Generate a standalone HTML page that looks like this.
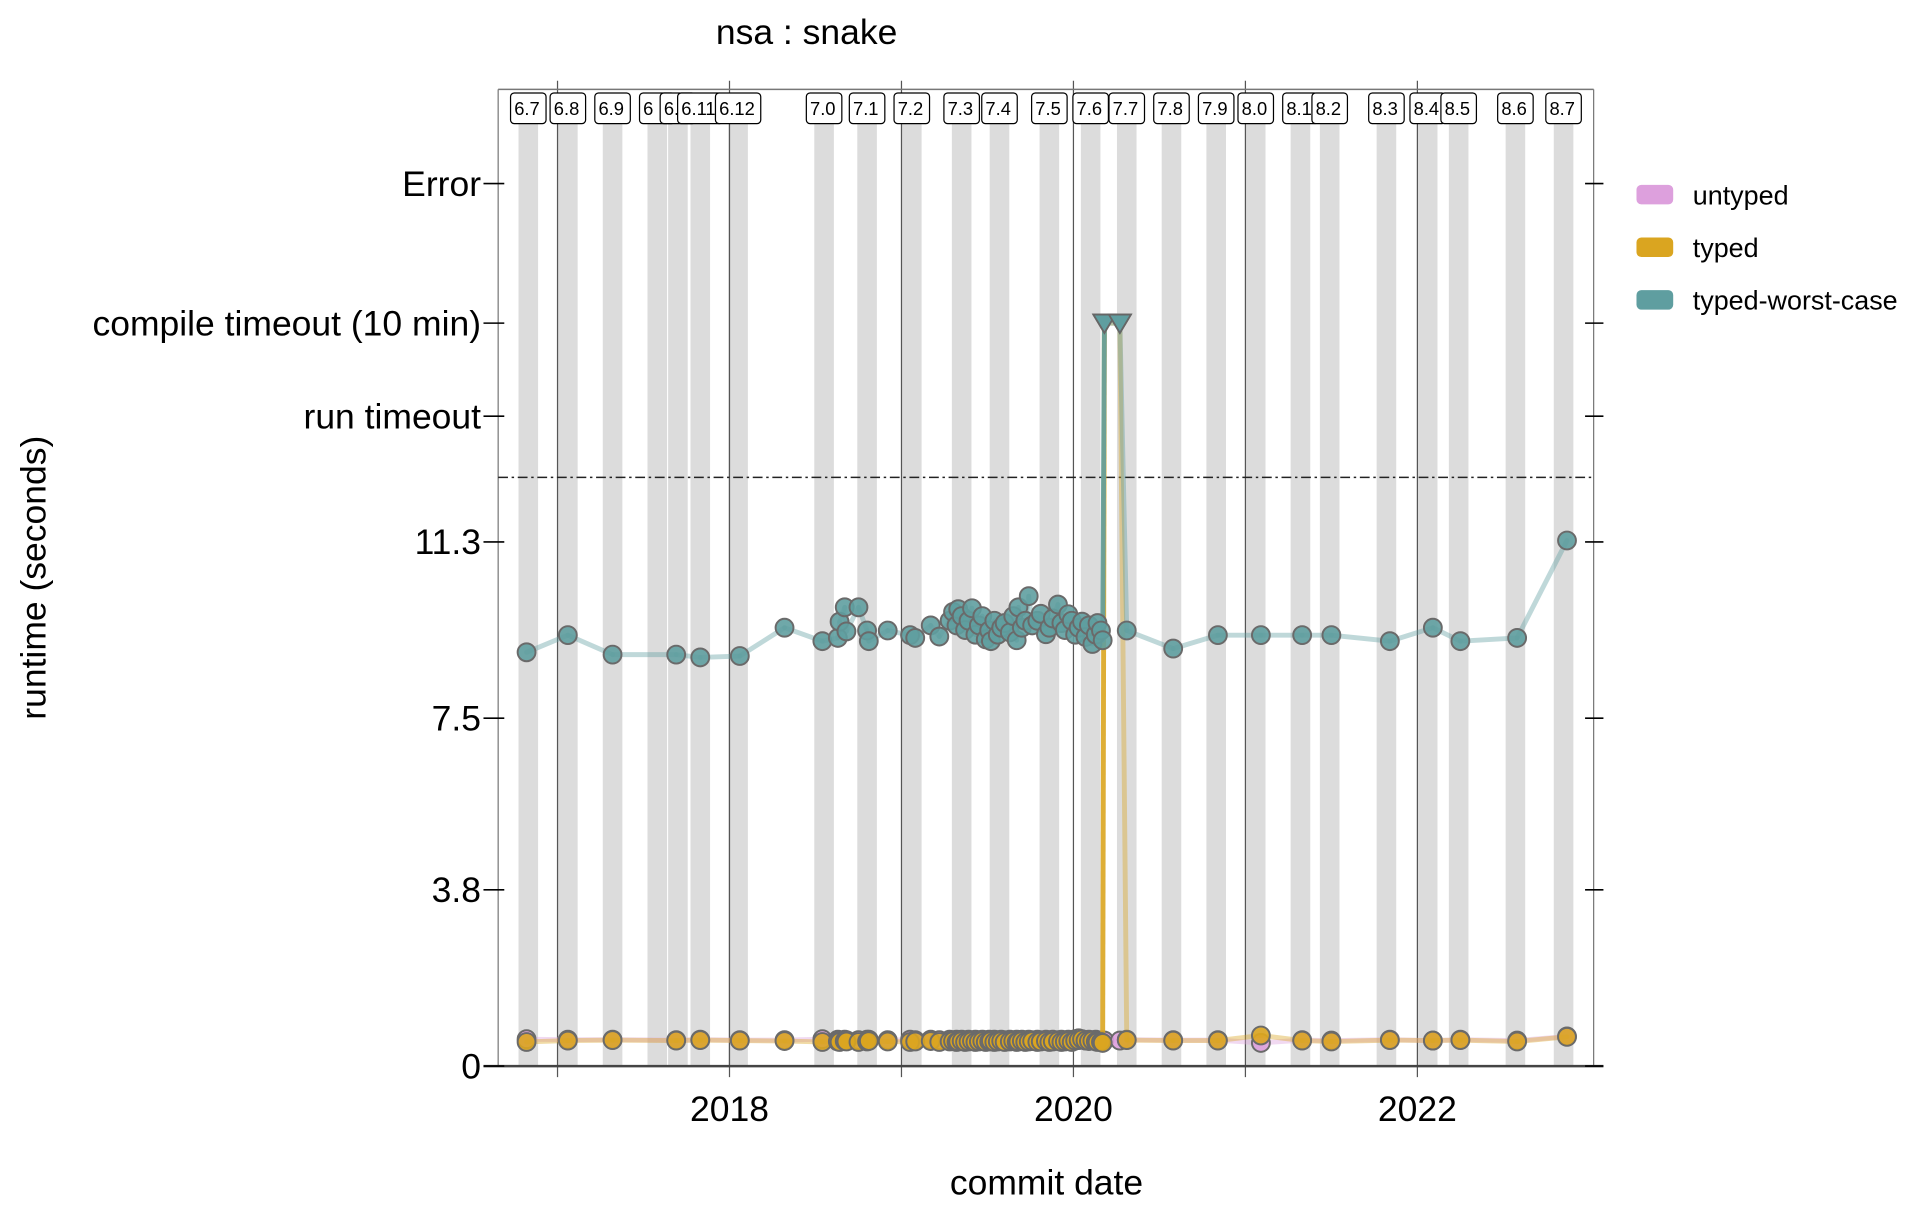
<!DOCTYPE html>
<html><head><meta charset="utf-8">
<style>html,body{margin:0;padding:0;background:#fff}svg{display:block}text{font-family:"Liberation Sans",sans-serif}</style>
</head><body>
<svg id="chart" width="1918" height="1212" viewBox="0 0 1567 990" preserveAspectRatio="xMinYMin meet" xmlns="http://www.w3.org/2000/svg">
<g id="bands"></g>
<g id="grid"></g>
<g id="frame"></g>
<g id="series"></g>
<g id="labels"></g>
<g id="axes"></g>
<text x="659" y="36" font-size="29" text-anchor="middle">nsa : snake</text>
<text x="855" y="976" font-size="29" text-anchor="middle">commit date</text>
<text transform="translate(37,472) rotate(-90)" font-size="29" text-anchor="middle">runtime (seconds)</text>
<g>
  <g><rect x="1337" y="151" width="30" height="16" rx="4" fill="#DDA0DD"/><text x="1383" y="167" font-size="22">untyped</text></g>
  <g><rect x="1337" y="194" width="30" height="16" rx="4" fill="#DAA520"/><text x="1383" y="210" font-size="22">typed</text></g>
  <g><rect x="1337" y="237" width="30" height="16" rx="4" fill="#5F9EA0"/><text x="1383" y="253" font-size="22">typed-worst-case</text></g>
</g>
</svg>
<script>
const releaseNames = ["6.7","6.8","6.9","6.10","6.10.1","6.11","6.12","7.0","7.1","7.2","7.3","7.4","7.5","7.6","7.7","7.8","7.9","8.0","8.1","8.2","8.3","8.4","8.5","8.6","8.7"];
const releaseLabels = ["6.7","6.8","6.9","6","6.1","6.11","6.12","7.0","7.1","7.2","7.3","7.4","7.5","7.6","7.7","7.8","7.9","8.0","8.1","8.2","8.3","8.4","8.5","8.6","8.7"];
const releaseDates = [2016.83,2017.06,2017.32,2017.58,2017.70,2017.83,2018.05,2018.55,2018.80,2019.06,2019.35,2019.57,2019.86,2020.10,2020.31,2020.57,2020.83,2021.06,2021.32,2021.49,2021.82,2022.06,2022.24,2022.57,2022.85];
const yearTicks = [2017,2018,2019,2020,2021,2022];
const yearLabels = ["2018","2020","2022"];
const yTickValues = [0,3.8,7.5,11.3];
const yTickLabels = ["0","3.8","7.5","11.3"];
const specialLevels = ["run timeout","compile timeout (10 min)","Error"];
const T = "compile timeout (10 min)";
const commitDates = [2016.82,2017.06,2017.32,2017.69,2017.83,2018.06,2018.32,2018.54,2018.63,2018.64,2018.67,2018.68,2018.75,2018.80,2018.81,2018.92,2019.05,2019.08,2019.17,2019.22,
2019.28,2019.30,2019.32,2019.33,2019.35,2019.37,2019.39,2019.41,2019.43,2019.45,2019.47,2019.49,2019.51,2019.52,2019.54,2019.56,2019.58,2019.60,2019.63,2019.65,2019.67,2019.68,2019.70,2019.72,2019.74,2019.76,2019.79,2019.81,2019.84,2019.86,2019.88,2019.91,2019.93,2019.95,2019.97,2019.99,2020.01,2020.03,2020.05,2020.07,2020.09,2020.11,2020.13,2020.14,2020.16,2020.17,
2020.18,2020.27,2020.31,2020.58,2020.84,2021.09,2021.33,2021.50,2021.84,2022.09,2022.25,2022.58,2022.87];
const worstValues = [8.92,9.29,8.87,8.87,8.81,8.84,9.45,9.16,9.23,9.58,9.89,9.37,9.89,9.39,9.16,9.39,9.29,9.23,9.50,9.26,
9.60,9.79,9.50,9.85,9.70,9.40,9.60,9.87,9.30,9.50,9.70,9.20,9.39,9.16,9.60,9.30,9.45,9.55,9.35,9.70,9.18,9.89,9.45,9.60,10.13,9.50,9.60,9.75,9.31,9.45,9.65,9.95,9.55,9.40,9.74,9.60,9.30,9.45,9.58,9.25,9.50,9.10,9.30,9.55,9.39,9.18,
T,T,9.39,9.00,9.29,9.29,9.29,9.29,9.16,9.45,9.16,9.23,11.33];
const typedValues = [0.52,0.55,0.56,0.55,0.56,0.55,0.54,0.52,0.53,0.52,0.54,0.53,0.52,0.53,0.54,0.53,0.52,0.53,0.54,0.52,
0.53,0.54,0.52,0.53,0.54,0.52,0.53,0.54,0.52,0.53,0.54,0.52,0.53,0.54,0.52,0.53,0.54,0.52,0.53,0.54,0.52,0.53,0.54,0.52,0.53,0.54,0.52,0.53,0.54,0.52,0.53,0.54,0.52,0.53,0.54,0.52,0.55,0.56,0.58,0.55,0.54,0.55,0.53,0.52,0.52,0.50,
T,T,0.56,0.55,0.55,0.66,0.55,0.53,0.56,0.55,0.56,0.53,0.63];
const untypedValues = [0.58,0.57,0.57,0.56,0.57,0.56,0.56,0.58,0.57,0.56,0.57,0.56,0.56,0.57,0.57,0.56,0.57,0.56,0.57,0.56,
0.57,0.56,0.57,0.56,0.57,0.56,0.57,0.56,0.57,0.56,0.57,0.56,0.57,0.56,0.57,0.56,0.57,0.56,0.57,0.56,0.57,0.56,0.57,0.56,0.57,0.56,0.57,0.56,0.57,0.56,0.57,0.56,0.57,0.56,0.57,0.56,0.58,0.60,0.57,0.56,0.57,0.56,0.57,0.55,0.55,0.55,
0.55,0.55,0.57,0.56,0.56,0.50,0.56,0.55,0.57,0.55,0.57,0.55,0.64];

const NS="http://www.w3.org/2000/svg";
const L=407,R=1302,TOP=73,BOT=871;
const xS=d=>877+(d-2020)*140.5;
const specialY={"run timeout":340,"compile timeout (10 min)":264,"Error":150};
const yS=v=>typeof v==="string"?specialY[v]:871-v*37.9;
function mk(tag,attrs,parent){const e=document.createElementNS(NS,tag);for(const k in attrs)e.setAttribute(k,attrs[k]);parent.appendChild(e);return e;}
const bands=document.getElementById('bands'),grid=document.getElementById('grid'),frame=document.getElementById('frame'),series=document.getElementById('series'),labels=document.getElementById('labels'),axes=document.getElementById('axes');

releaseDates.forEach((d,i)=>{
  const r=mk('rect',{x:xS(d)-8,y:TOP+28,width:16,height:BOT-TOP-28,fill:"#dcdcdc"},bands);
  
  
});
yearTicks.forEach(y=>{
  const l=mk('line',{x1:xS(y),x2:xS(y),y1:TOP-7,y2:BOT+9,stroke:"#555","stroke-width":1},grid);
  
  
});
mk('line',{x1:L,x2:R,y1:TOP,y2:TOP,stroke:"#777","stroke-width":1.2},frame);
mk('line',{x1:L,x2:L,y1:TOP,y2:BOT,stroke:"#777","stroke-width":1},frame);
mk('line',{x1:R,x2:R,y1:TOP,y2:BOT,stroke:"#777","stroke-width":1},frame);
const dash=mk('line',{x1:L,x2:R,y1:390,y2:390,stroke:"#222","stroke-width":1.2,"stroke-dasharray":"8,3,2,3"},frame);



function drawSeries(vals,color,name){
  const g=mk('g',{},series);
  
  
  for(let i=1;i<vals.length;i++){
    const into=typeof vals[i]==="string"&&typeof vals[i-1]!=="string";
    const l=mk('line',{x1:xS(commitDates[i-1]),y1:yS(vals[i-1]),x2:xS(commitDates[i]),y2:yS(vals[i]),stroke:color,"stroke-width":4,"stroke-opacity":into?0.9:0.4,"stroke-linecap":"round"},g);
    
    
  }
  vals.forEach((v,i)=>{
    const x=xS(commitDates[i]),y=yS(v);
    if(typeof v==="string"){
      const p=mk('path',{d:`M${x-9},${y-7} L${x+9},${y-7} L${x},${y+8} Z`,fill:color,stroke:"#666","stroke-width":1.5},g);
      
      
    } else {
      const c=mk('circle',{cx:x,cy:y,r:7.3,fill:color,"fill-opacity":0.9,stroke:"#6a6a6a","stroke-width":1.6},g);
      
      
    }
  });
}
drawSeries(untypedValues,"#DDA0DD","untyped");
drawSeries(typedValues,"#DAA520","typed");
drawSeries(worstValues,"#5F9EA0","typed-worst-case");

releaseDates.forEach((d,i)=>{
  const lab=releaseLabels[i];
  const w=lab.length>3?37:29;
  const g=mk('g',{},labels);
  
  
  mk('rect',{x:xS(d)-w/2,y:76,width:w,height:25,rx:3,fill:"#fff",stroke:"#000","stroke-width":1},g);
  const t=mk('text',{x:xS(d)-w/2+3,y:94,"font-size":15},g);t.textContent=lab;
});

mk('line',{x1:395,x2:1310,y1:BOT,y2:BOT,stroke:"#444","stroke-width":2},axes);
yTickValues.forEach((v,i)=>{
  const y=yS(v);
  mk('line',{x1:395,x2:412,y1:y,y2:y,stroke:"#000","stroke-width":1.3},axes);
  mk('line',{x1:1295,x2:1310,y1:y,y2:y,stroke:"#000","stroke-width":1.3},axes);
  const t=mk('text',{x:393,y:y+10,"font-size":29,"text-anchor":"end"},axes);
  t.textContent=yTickLabels[i];
  
  
});
specialLevels.forEach(s=>{
  const y=yS(s);
  mk('line',{x1:395,x2:412,y1:y,y2:y,stroke:"#000","stroke-width":1.3},axes);
  mk('line',{x1:1295,x2:1310,y1:y,y2:y,stroke:"#000","stroke-width":1.3},axes);
  const t=mk('text',{x:393,y:y+10,"font-size":29,"text-anchor":"end"},axes);
  t.textContent=s;
  
  
});
yearLabels.forEach(y=>{
  const t=mk('text',{x:xS(+y),y:916,"font-size":29,"text-anchor":"middle"},axes);
  t.textContent=y;
  
  
});
</script>
</body></html>
